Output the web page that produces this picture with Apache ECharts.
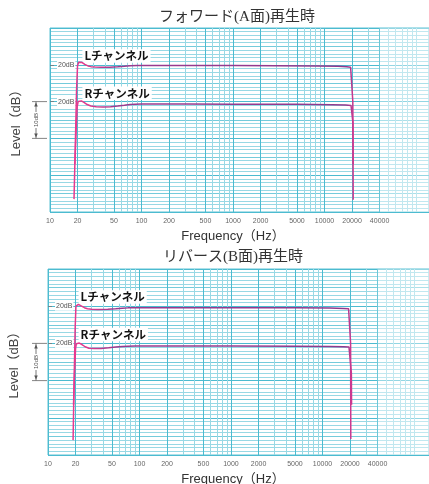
<!DOCTYPE html>
<html><head><meta charset="utf-8">
<script src="https://cdn.jsdelivr.net/npm/echarts@6/dist/echarts.min.js"></script>
<style>html,body{margin:0;padding:0;background:#fff}#c{width:429px;height:484px}</style>
</head><body><div id="c"></div>
<script>
// ---- data ----
const xTickLabels = [10, 20, 50, 100, 200, 500, 1000, 2000, 5000, 10000, 20000, 40000];
const yRefLevels = [30, 40];          // where the "20dB" reference marks sit
const refLabel = '20dB';
const chartTitles = ['フォワード(A面)再生時', 'リバース(B面)再生時'];
const channelNames = ['Lチャンネル', 'Rチャンネル'];

const fwdL_freq = [18.3, 18.9, 19.5, 20.0, 20.6, 21.3, 22.5, 24, 26, 28, 31, 36, 45, 55, 65, 75, 90, 120, 300, 1000, 3000, 8000, 14000, 17500, 19300, 20000, 20400, 20600];
const fwdL_db   = [3.5, 18, 33, 39.8, 40.7, 40.9, 40.6, 40.1, 39.7, 39.5, 39.4, 39.35, 39.35, 39.45, 39.6, 39.75, 39.8, 39.8, 39.8, 39.8, 39.75, 39.7, 39.6, 39.5, 39.35, 39.2, 30, 3.3];
const fwdR_freq = [18.7, 19.3, 19.8, 20.3, 21, 22, 23.5, 25.5, 28, 32, 38, 46, 55, 65, 75, 85, 100, 300, 1000, 5000, 12000, 17000, 19500, 20200, 20500, 20600];
const fwdR_db   = [13, 22, 28.5, 30.0, 30.3, 30.2, 29.8, 29.2, 28.8, 28.6, 28.55, 28.6, 28.8, 29.0, 29.2, 29.3, 29.35, 29.35, 29.3, 29.25, 29.15, 29.05, 28.95, 28.8, 24, 13];
const revL_freq = [18.8, 19.3, 19.8, 20.2, 20.8, 21.5, 23, 25, 27, 30, 35, 45, 55, 65, 75, 90, 150, 1000, 5000, 12000, 17000, 19300, 20000, 20300, 20400];
const revL_db   = [4, 20, 34, 40.0, 40.5, 40.5, 40.1, 39.6, 39.3, 39.15, 39.1, 39.15, 39.3, 39.45, 39.55, 39.6, 39.6, 39.6, 39.55, 39.5, 39.4, 39.3, 39.15, 30, 4.3];
const revR_freq = [19.0, 19.5, 20.0, 20.4, 21, 22, 23.5, 25.5, 28, 32, 38, 46, 55, 65, 75, 90, 150, 1000, 5000, 12000, 17000, 19500, 20300, 20700, 20800];
const revR_db   = [13.5, 22, 28.5, 29.9, 30.2, 30.1, 29.7, 29.1, 28.7, 28.6, 28.65, 28.8, 29.0, 29.15, 29.25, 29.3, 29.3, 29.3, 29.25, 29.2, 29.1, 29.0, 28.9, 22, 13.5];

// label anchor points (data space) for channel names
const labelPos = [[[22.6, 42.4], [22.6, 32.3]], [[21.6, 42.5], [21.6, 32.4]]];

// ---- layout ----
const grids = [
  {left: 50, top: 28, right: 0, height: 184, xmax: 138700},
  {left: 48, top: 269, right: 0, height: 186, xmax: 146000}
];
const fineX = [];
[10, 100, 1000, 10000, 100000].forEach(d => { for (let m = 1; m <= 9; m++) fineX.push(d * m); });
const majorX = xTickLabels;

const GRID_LIGHT = '#98d8e4';
const GRID_MID = '#74cbdb';
const GRID_DARK = '#4cbbd0';
const yColors = [GRID_DARK, GRID_LIGHT, GRID_LIGHT, GRID_LIGHT, GRID_LIGHT, GRID_MID, GRID_LIGHT, GRID_LIGHT, GRID_LIGHT, GRID_LIGHT];

const lineGrad = () => new echarts.graphic.LinearGradient(0, 0, 1, 0, [
  {offset: 0, color: '#e8388f'}, {offset: 0.06, color: '#de3a8c'},
  {offset: 0.16, color: '#9a3a8e'}, {offset: 0.97, color: '#8e3a8e'},
  {offset: 1, color: '#e8388f'}
]);

const zip = (a, b) => a.map((v, i) => [v, b[i]]);
const seriesData = [[fwdL_freq, fwdL_db, fwdR_freq, fwdR_db], [revL_freq, revL_db, revR_freq, revR_db]];

const option = {
  backgroundColor: '#fff',
  animation: false,
  grid: grids.map(g => ({left: g.left, top: g.top, right: g.right, height: g.height, show: true,
    containLabel: false, outerBoundsMode: 'none',
    borderColor: '#5cc2d4', borderWidth: 1, backgroundColor: '#fff'})),
  xAxis: [], yAxis: [], series: []
};

grids.forEach((g, gi) => {
  const xBase = option.xAxis.length;
  option.xAxis.push({
    type: 'log', logBase: 10, gridIndex: gi, min: 10, max: g.xmax, position: 'bottom',
    axisLine: {show: false}, axisTick: {show: false, customValues: fineX},
    axisLabel: {customValues: xTickLabels, fontSize: 7, color: '#666', margin: 6,
      fontFamily: 'Liberation Sans', formatter: v => String(Math.round(v))},
    splitLine: {show: true, lineStyle: {color: GRID_LIGHT, width: 1}}
  });
  option.xAxis.push({
    type: 'log', logBase: 10, gridIndex: gi, min: 10, max: g.xmax, position: 'bottom',
    axisLine: {show: false}, axisTick: {show: false, customValues: majorX},
    axisLabel: {show: false},
    splitLine: {show: true, lineStyle: {color: GRID_DARK, width: 1}}
  });
  const yBase = option.yAxis.length;
  option.yAxis.push({
    type: 'value', gridIndex: gi, min: 0, max: 50, interval: 1, position: 'left',
    axisLine: {show: false}, axisTick: {show: false}, axisLabel: {show: false},
    splitLine: {show: true, lineStyle: {color: yColors, width: 1}}
  });
  option.yAxis.push({
    type: 'value', gridIndex: gi, min: 0, max: 50, interval: 10, position: 'left', offset: 0,
    axisLine: {show: false}, splitLine: {show: false},
    axisTick: {show: true, inside: true, length: 4, customValues: yRefLevels, lineStyle: {color: '#777', width: 0.8}},
    axisLabel: {inside: true, customValues: yRefLevels, formatter: () => refLabel, fontSize: 7,
      color: '#555', margin: 7, fontFamily: 'Liberation Sans', backgroundColor: '#fff', padding: [1, 1]},
    name: 'Level（dB）', nameLocation: 'middle', nameGap: 27, nameRotate: 90,
    nameTextStyle: {fontSize: 13, color: '#444', fontFamily: 'Liberation Sans, Noto Sans CJK JP'}
  });
  const d = seriesData[gi];
  [0, 1].forEach(ci => {
    option.series.push({
      type: 'line', xAxisIndex: xBase, yAxisIndex: yBase,
      data: zip(d[ci * 2], d[ci * 2 + 1]), symbol: 'none', smooth: false,
      lineStyle: {color: lineGrad(), width: 1.5}, z: 5,
      markPoint: {
        symbol: 'rect', symbolSize: 0, silent: true,
        data: [{coord: labelPos[gi][ci], value: channelNames[ci]}],
        label: {show: true, position: 'right', distance: 0, formatter: channelNames[ci],
          fontSize: 11.5, fontWeight: 'bold', color: '#111', fontFamily: 'Noto Sans CJK JP',
          backgroundColor: '#fff', padding: [1, 2]}
      },
      markArea: ci === 0 ? {silent: true, itemStyle: {color: 'rgba(255,255,255,0.4)'},
        data: [[{xAxis: 40000}, {xAxis: g.xmax}]]} : undefined
    });
  });
});

const chart = echarts.init(document.getElementById('c'), null, {renderer: 'canvas'});
chart.setOption(option);

// annotations tied to the axes
const graphics = [];
const titleY = [17, 257];
const titleX = [237, 233];
const freqY = [236, 479];
grids.forEach((g, gi) => {
  graphics.push({type: 'text', x: titleX[gi], y: titleY[gi], style: {text: chartTitles[gi],
    font: '15px "Liberation Serif", "Noto Sans CJK JP"', fill: '#333', textAlign: 'center', textVerticalAlign: 'middle'}});
  graphics.push({type: 'text', x: 233, y: freqY[gi], style: {text: 'Frequency（Hz）',
    font: '13px "Liberation Sans", "Noto Sans CJK JP"', fill: '#333', textAlign: 'center', textVerticalAlign: 'middle'}});
  const yT = chart.convertToPixel({yAxisIndex: gi * 2}, 30);
  const yB = chart.convertToPixel({yAxisIndex: gi * 2}, 20);
  const bx = 36;
  graphics.push({type: 'line', shape: {x1: bx, y1: yT, x2: bx, y2: yB}, style: {stroke: '#555', lineWidth: 0.8}});
  graphics.push({type: 'line', shape: {x1: 32, y1: yT, x2: 47, y2: yT}, style: {stroke: '#666', lineWidth: 0.8}});
  graphics.push({type: 'line', shape: {x1: 32, y1: yB, x2: 47, y2: yB}, style: {stroke: '#666', lineWidth: 0.8}});
  graphics.push({type: 'polygon', shape: {points: [[bx, yT + 1], [bx - 1.8, yT + 5], [bx + 1.8, yT + 5]]}, style: {fill: '#555'}});
  graphics.push({type: 'polygon', shape: {points: [[bx, yB - 1], [bx - 1.8, yB - 5], [bx + 1.8, yB - 5]]}, style: {fill: '#555'}});
  graphics.push({type: 'text', x: bx, y: (yT + yB) / 2, rotation: Math.PI / 2, style: {text: '10dB',
    font: '6px "Liberation Sans"', fill: '#555', textAlign: 'center', textVerticalAlign: 'middle',
    backgroundColor: '#fff', padding: [0, 1]}});
});
chart.setOption({graphic: graphics});
</script></body></html>
